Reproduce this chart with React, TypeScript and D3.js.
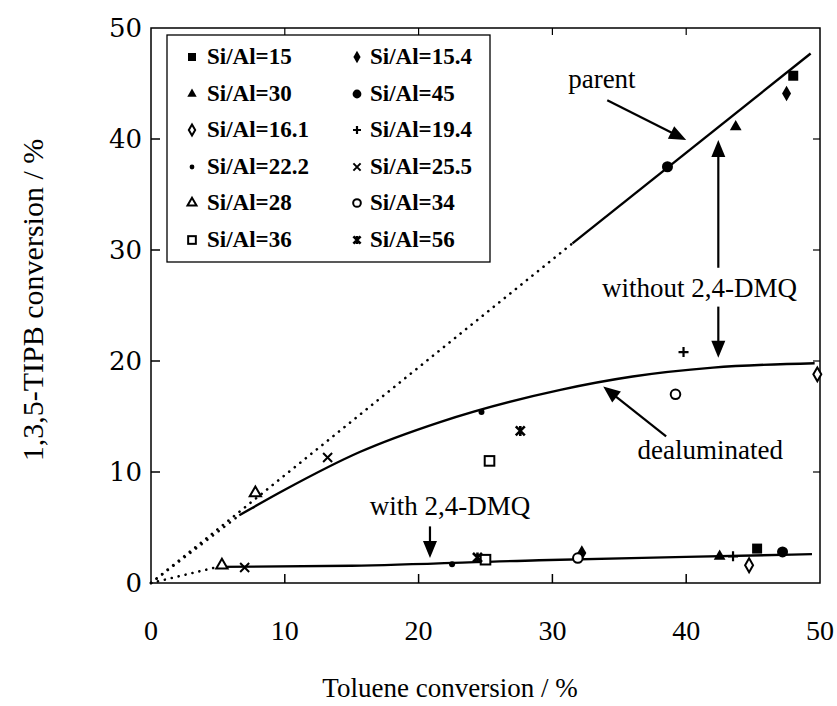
import React from 'react';
import * as d3 from 'd3';

// ---- data ----
const seriesLabels = ["Si/Al=15", "Si/Al=15.4", "Si/Al=30", "Si/Al=45", "Si/Al=16.1", "Si/Al=19.4", "Si/Al=22.2", "Si/Al=25.5", "Si/Al=28", "Si/Al=34", "Si/Al=36", "Si/Al=56"];
const seriesMarkers = ["square", "diamond", "triangle", "circle", "diamondOpen", "plus", "dot", "cross", "triangleOpen", "circleOpen", "squareOpen", "asterisk"];
const withoutDmqX = [48.0, 47.5, 43.7, 38.6, 49.8, 39.8, 24.7, 13.2, 7.8, 39.2, 25.3, 27.6];
const withoutDmqY = [45.7, 44.1, 41.1, 37.5, 18.8, 20.8, 15.4, 11.3, 8.1, 17.0, 11.0, 13.7];
const withDmqX = [45.3, 32.2, 42.5, 47.2, 44.7, 43.5, 22.5, 7.0, 5.3, 31.9, 25.0, 24.4];
const withDmqY = [3.1, 2.7, 2.4, 2.8, 1.6, 2.4, 1.7, 1.4, 1.6, 2.25, 2.1, 2.3];
const legendCol1 = [0, 2, 4, 6, 8, 10];
const legendCol2 = [1, 3, 5, 7, 9, 11];

const xTicks = [0, 10, 20, 30, 40, 50];
const yTicks = [0, 10, 20, 30, 40, 50];

const parentDottedX = [0, 31.5];
const parentDottedY = [0, 30.6];
const parentSolidX = [31.5, 49.3];
const parentSolidY = [30.6, 47.7];
const dealDottedX = [0, 6.6];
const dealDottedY = [0, 6.1];
const dealSolidX = [6.6, 10, 15.6, 21.6, 30.6, 36, 42, 49.6];
const dealSolidY = [6.1, 8.4, 11.8, 14.5, 17.4, 18.6, 19.4, 19.8];
const lowDottedX = [0, 5.0];
const lowDottedY = [0, 1.45];
const lowSolidX = [5.0, 15, 29, 40, 49.4];
const lowSolidY = [1.45, 1.55, 2.05, 2.35, 2.6];

const annoTexts = ["parent", "without 2,4-DMQ", "dealuminated", "with 2,4-DMQ"];
const annoTextX = [33.7, 41.0, 41.8, 22.35];
const annoTextY = [44.6, 25.8, 11.2, 6.1];
// arrows: from (x1,y1) to tip (x2,y2)
const arrowX1 = [34.1, 42.4, 42.4, 38.5, 20.85];
const arrowY1 = [43.5, 28.4, 24.9, 13.2, 5.1];
const arrowX2 = [40.0, 42.4, 42.4, 33.8, 20.85];
const arrowY2 = [39.9, 39.9, 20.3, 17.7, 2.25];

const xTitle = "Toluene conversion / %";
const yTitle = "1,3,5-TIPB conversion / %";

// ---- layout ----
const W = 837, H = 706;
const x = d3.scaleLinear().domain([0, 50]).range([151, 820]);
const y = d3.scaleLinear().domain([0, 50]).range([583, 28]);
const serif = "Liberation Serif";

function Marker({ type, cx, cy, s = 1 }: { type: string; cx: number; cy: number; s?: number }) {
  const sym = (t: any, area: number) => d3.symbol().type(t).size(area * s * s)() as string;
  const tr = `translate(${cx},${cy})`;
  switch (type) {
    case "square":
      return <rect x={cx - 5 * s} y={cy - 5 * s} width={10 * s} height={10 * s} fill="#000" />;
    case "diamond":
      return <path d={sym(d3.symbolDiamond, 70)} transform={tr} fill="#000" />;
    case "triangle":
      return <path d={sym(d3.symbolTriangle, 60)} transform={tr} fill="#000" />;
    case "circle":
      return <circle cx={cx} cy={cy} r={5.5 * s} fill="#000" />;
    case "diamondOpen":
      return <path d={sym(d3.symbolDiamond, 55)} transform={tr} fill="#fff" stroke="#000" strokeWidth={2} />;
    case "plus":
      return <path d={`M${cx - 5 * s},${cy}H${cx + 5 * s}M${cx},${cy - 5 * s}V${cy + 5 * s}`} stroke="#000" strokeWidth={2.2} />;
    case "dot":
      return <circle cx={cx} cy={cy} r={3 * s} fill="#000" />;
    case "cross":
      return <path d={`M${cx - 4.5 * s},${cy - 4.5 * s}L${cx + 4.5 * s},${cy + 4.5 * s}M${cx - 4.5 * s},${cy + 4.5 * s}L${cx + 4.5 * s},${cy - 4.5 * s}`} stroke="#000" strokeWidth={2} />;
    case "triangleOpen":
      return <path d={sym(d3.symbolTriangle, 55)} transform={tr} fill="#fff" stroke="#000" strokeWidth={2} />;
    case "circleOpen":
      return <circle cx={cx} cy={cy} r={4.8 * s} fill="#fff" stroke="#000" strokeWidth={2} />;
    case "squareOpen":
      return <rect x={cx - 4.8 * s} y={cy - 4.8 * s} width={9.6 * s} height={9.6 * s} fill="#fff" stroke="#000" strokeWidth={2} />;
    case "asterisk":
      return <path d={`M${cx - 4.5 * s},${cy - 4.5 * s}L${cx + 4.5 * s},${cy + 4.5 * s}M${cx - 4.5 * s},${cy + 4.5 * s}L${cx + 4.5 * s},${cy - 4.5 * s}M${cx},${cy - 5 * s}V${cy + 5 * s}`} stroke="#000" strokeWidth={2.6} />;
    default:
      return null;
  }
}

function Arrow({ x1, y1, x2, y2 }: { x1: number; y1: number; x2: number; y2: number }) {
  const dx = x2 - x1, dy = y2 - y1;
  const len = Math.hypot(dx, dy);
  const ux = dx / len, uy = dy / len;
  const hl = 17, hw = 7;
  const bx = x2 - ux * hl, by = y2 - uy * hl;
  const px = -uy, py = ux;
  return (
    <g>
      <line x1={x1} y1={y1} x2={bx + ux * 2} y2={by + uy * 2} stroke="#000" strokeWidth={2.2} />
      <path d={`M${x2},${y2}L${bx + px * hw},${by + py * hw}L${bx - px * hw},${by - py * hw}Z`} fill="#000" />
    </g>
  );
}

export default function App() {
  const lineGen = d3.line<[number, number]>().x(d => x(d[0])).y(d => y(d[1]));
  const curveGen = d3.line<[number, number]>().x(d => x(d[0])).y(d => y(d[1])).curve(d3.curveMonotoneX);
  const pts = (xs: number[], ys: number[]) => xs.map((v, i) => [v, ys[i]] as [number, number]);

  const x0 = x(0), x1 = x(50), y0 = y(0), y1 = y(50);

  const legendLeft = 167, legendTop = 35, legendRight = 490, legendBottom = 262;
  const rowY = [57, 94, 130, 167, 203, 240];
  const tStyle = { fontFamily: serif };

  return (
    <svg width={W} height={H} style={{ position: 'absolute', left: 0, top: 0, background: '#fff', fontFamily: serif }}>
      <rect x={0} y={0} width={W} height={H} fill="#fff" />
      {/* frame */}
      <rect x={x0} y={y1} width={x1 - x0} height={y0 - y1} fill="none" stroke="#000" strokeWidth={1.5} />
      {/* ticks */}
      {xTicks.slice(1, -1).map(t => (
        <g key={'xt' + t}>
          <line x1={x(t)} x2={x(t)} y1={y0} y2={y0 - 9} stroke="#000" strokeWidth={1.5} />
          <line x1={x(t)} x2={x(t)} y1={y1} y2={y1 + 7} stroke="#000" strokeWidth={1.2} />
        </g>
      ))}
      {yTicks.slice(1, -1).map(t => (
        <g key={'yt' + t}>
          <line x1={x0} x2={x0 + 9} y1={y(t)} y2={y(t)} stroke="#000" strokeWidth={1.5} />
          <line x1={x1} x2={x1 - 7} y1={y(t)} y2={y(t)} stroke="#000" strokeWidth={1.2} />
        </g>
      ))}
      {/* tick labels */}
      {xTicks.map(t => (
        <text key={'xl' + t} x={x(t)} y={640} textAnchor="middle" fontSize={28} fill="#000" style={tStyle}>{t}</text>
      ))}
      {yTicks.map(t => (
        <text key={'yl' + t} x={142} y={y(t)} dy="0.36em" textAnchor="end" fontSize={26} fill="#000" style={{ fontFamily: 'DejaVu Serif' }}>{t}</text>
      ))}
      {/* axis titles */}
      <text x={450} y={697} textAnchor="middle" fontSize={27} fill="#000" style={tStyle}>{xTitle}</text>
      <text transform={`translate(43,300) rotate(-90)`} textAnchor="middle" fontSize={30} fill="#000" style={tStyle}>{yTitle}</text>

      {/* lines */}
      <g fill="none" stroke="#000">
        <path d={lineGen(pts(parentDottedX, parentDottedY)) as string} strokeWidth={2.6} strokeDasharray="0.1 7" strokeLinecap="round" />
        <path d={lineGen(pts(dealDottedX, dealDottedY)) as string} strokeWidth={2.6} strokeDasharray="0.1 7" strokeLinecap="round" />
        <path d={lineGen(pts(lowDottedX, lowDottedY)) as string} strokeWidth={2.6} strokeDasharray="0.1 7" strokeLinecap="round" />
        <path d={lineGen(pts(parentSolidX, parentSolidY)) as string} strokeWidth={2.4} />
        <path d={curveGen(pts(dealSolidX, dealSolidY)) as string} strokeWidth={2.4} />
        <path d={curveGen(pts(lowSolidX, lowSolidY)) as string} strokeWidth={2.4} />
      </g>

      {/* data points */}
      {seriesMarkers.map((m, i) => (
        <g key={'p' + i}>
          <Marker type={m} cx={x(withoutDmqX[i])} cy={y(withoutDmqY[i])} />
          <Marker type={m} cx={x(withDmqX[i])} cy={y(withDmqY[i])} />
        </g>
      ))}

      {/* annotations */}
      {arrowX1.map((_, i) => (
        <Arrow key={'a' + i} x1={x(arrowX1[i])} y1={y(arrowY1[i])} x2={x(arrowX2[i])} y2={y(arrowY2[i])} />
      ))}
      {annoTexts.map((t, i) => (
        <text key={'t' + i} x={x(annoTextX[i])} y={y(annoTextY[i])} textAnchor="middle" fontSize={27} fill="#000" style={tStyle}>{t}</text>
      ))}

      {/* legend */}
      <rect x={legendLeft} y={legendTop} width={legendRight - legendLeft} height={legendBottom - legendTop} fill="#fff" stroke="#000" strokeWidth={1.3} />
      {legendCol1.map((si, r) => (
        <g key={'l1' + r}>
          <Marker type={seriesMarkers[si]} cx={192} cy={rowY[r]} s={0.8} />
          <text x={207} y={rowY[r] + 7} fontSize={23} fontWeight="bold" fill="#000" style={tStyle}>{seriesLabels[si]}</text>
        </g>
      ))}
      {legendCol2.map((si, r) => (
        <g key={'l2' + r}>
          <Marker type={seriesMarkers[si]} cx={357} cy={rowY[r]} s={0.8} />
          <text x={370} y={rowY[r] + 7} fontSize={23} fontWeight="bold" fill="#000" style={tStyle}>{seriesLabels[si]}</text>
        </g>
      ))}
    </svg>
  );
}
